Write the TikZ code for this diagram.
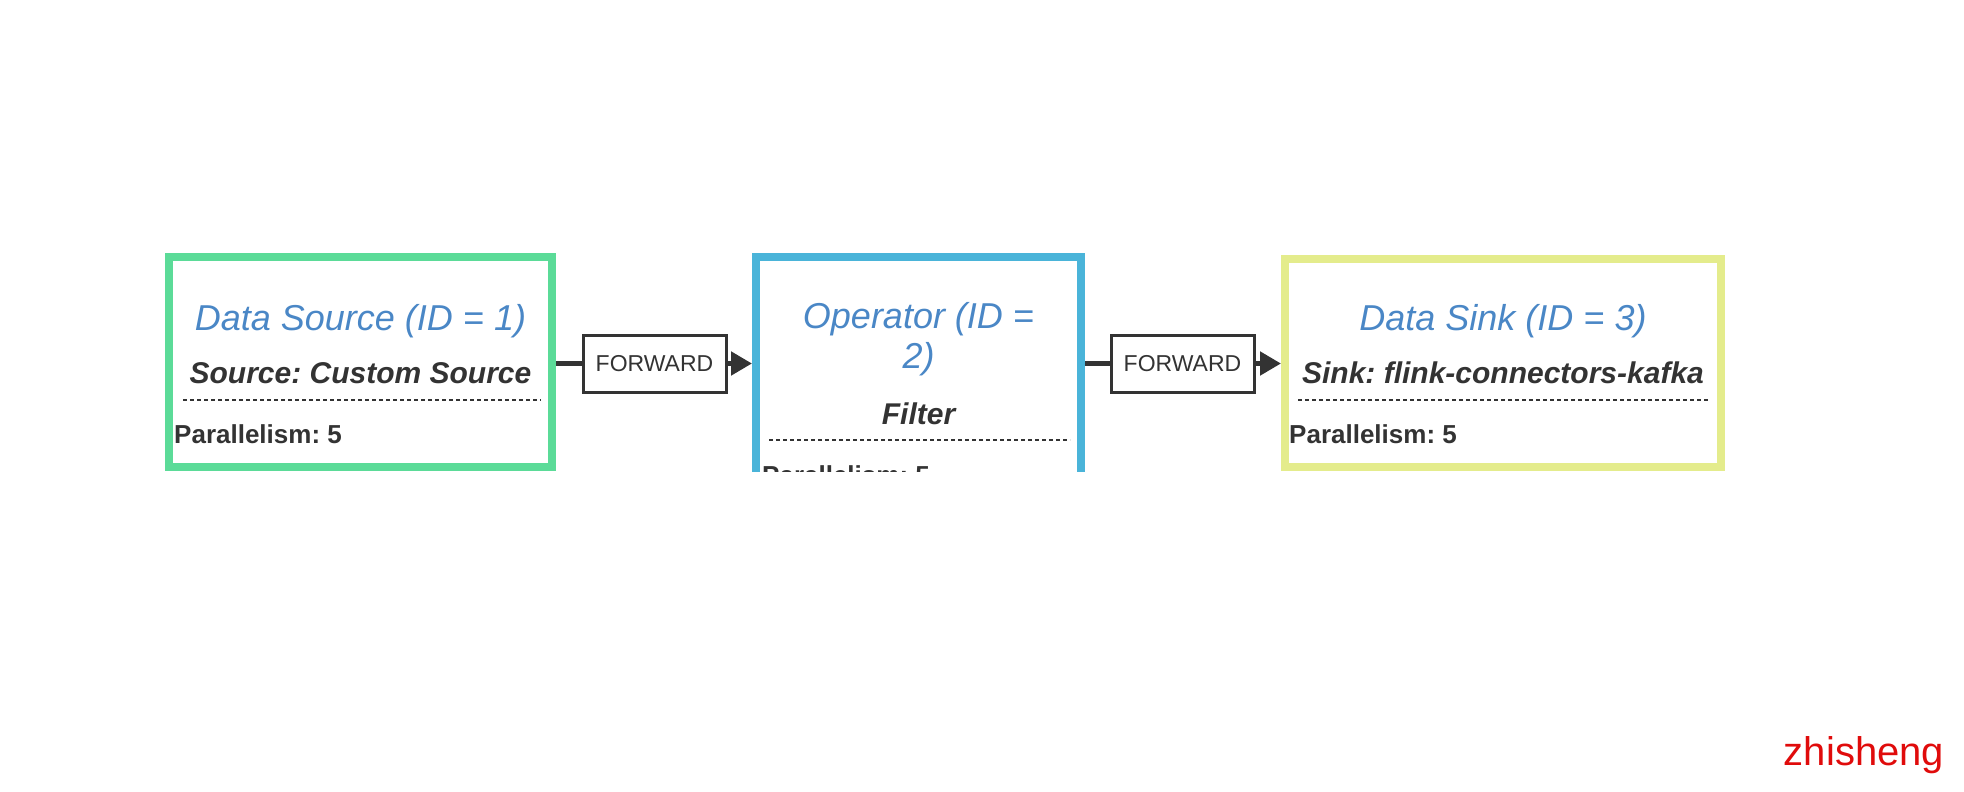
\documentclass[tikz,border=0pt]{standalone}
\usepackage{fontspec}
\setmainfont{Liberation Sans}
\frenchspacing
\usetikzlibrary{arrows.meta, positioning}
\definecolor{SourceGreen}{HTML}{5BDB98}
\definecolor{OperatorBlue}{HTML}{4AB4D9}
\definecolor{SinkYellow}{HTML}{E4EC8C}
\definecolor{TitleBlue}{HTML}{4A87C6}
\definecolor{DarkGray}{HTML}{333333}
\definecolor{MarkRed}{HTML}{E00B0B}

\begin{document}
\begin{tikzpicture}[
  x = 1pt, y = -1pt,
  box/.style      = {rectangle, draw, line width=8pt, inner sep=0pt},
  title/.style    = {font=\fontsize{36}{40}\selectfont\itshape, text=TitleBlue,
                     align=center, anchor=base, inner sep=0pt},
  subtitle/.style = {font=\fontsize{30}{34}\selectfont\bfseries\itshape,
                     text=DarkGray, anchor=base, inner sep=0pt},
  info/.style     = {font=\fontsize{26}{30}\selectfont\bfseries, text=DarkGray,
                     anchor=base west, inner sep=0pt},
  sep/.style      = {draw=DarkGray, line width=1.5pt, dash pattern=on 4pt off 3pt},
  ship/.style     = {rectangle, draw=DarkGray, line width=3pt, fill=white,
                     minimum width=143pt, minimum height=57pt, inner sep=0pt,
                     font=\fontsize{23}{26}\selectfont, text=DarkGray},
  link/.style     = {line width=5pt, draw=DarkGray},
  arr/.style      = {link, -{Triangle[length=21pt, width=23pt]}},
]
\useasboundingbox (0,0) rectangle (1964,792);

% Data Source Node
\node[box, draw=SourceGreen, minimum width=383pt, minimum height=210pt] (src) at (360.5,362) {};
\node[title] (srcTitle) at (360.5,330) {Data Source (ID = 1)};
\node[subtitle] (srcName) at (360.5,383) {Source: Custom Source};
\draw[sep] (183,400) -- (541,400);
\node[info] (srcPar) at (174,443) {Parallelism: 5};

% Operator Node (cut off at the bottom)
\begin{scope}
  \clip (0,0) rectangle (1964,471);
  \node[box, draw=OperatorBlue, minimum width=325pt, minimum height=263pt] (op) at (918.5,388.5) {};
  \node[info] (opPar) at (762,484) {Parallelism: 5};
\end{scope}
% base of a two-line node = base of its last line
\node[title] (opTitle) at (918.5,368) {Operator (ID =\\2)};
\node[subtitle] (opName) at (918.5,424) {Filter};
\draw[sep] (769,440) -- (1070,440);

% Data Sink Node
\node[box, draw=SinkYellow, minimum width=436pt, minimum height=208pt] (sink) at (1503,363) {};
\node[title] (sinkTitle) at (1503,330) {Data Sink (ID = 3)};
\node[subtitle] (sinkName) at (1503,383) {Sink: flink-connectors-kafka};
\draw[sep] (1298,400) -- (1709,400);
\node[info] (sinkPar) at (1289,443) {Parallelism: 5};

% Partitioning labels
\node[ship] (fwdA) at (654.5,363.5) {FORWARD};
\node[ship] (fwdB) at (1182.5,363.5) {FORWARD};

% Arrows
\draw[link] (src.east |- fwdA.west) -- (fwdA.west);
\draw[arr] (fwdA.east) -- (fwdA.east -| op.west);
\draw[link] (op.east |- fwdB.west) -- (fwdB.west);
\draw[arr] (fwdB.east) -- (fwdB.east -| sink.west);

% Watermark
\node[font=\fontsize{40}{44}\selectfont, text=MarkRed] (mark) at (1864,755) {zhisheng};

\end{tikzpicture}
\end{document}
